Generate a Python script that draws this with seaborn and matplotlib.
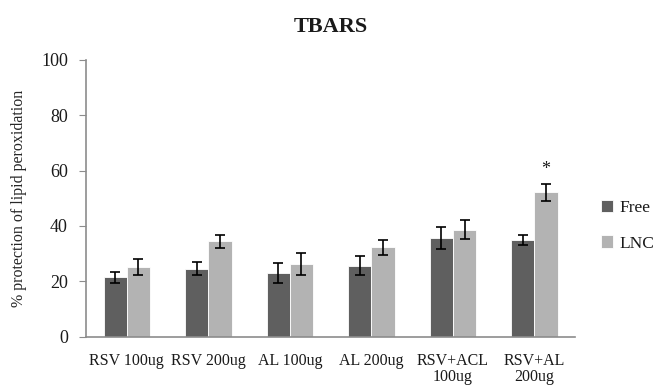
import numpy as np
import pandas as pd
import seaborn as sns
import matplotlib
matplotlib.use("Agg")
import matplotlib.pyplot as plt

groups = ["RSV 100ug", "RSV 200ug", "AL 100ug", "AL 200ug", "RSV+ACL\n100ug", "RSV+AL\n200ug"]
free_mean = [21.5, 24.6, 23.0, 25.7, 35.6, 35.0]
free_sd = [2.0, 2.4, 3.5, 3.4, 4.0, 1.9]
lnc_mean = [25.1, 34.5, 26.2, 32.3, 38.7, 52.2]
lnc_sd = [3.0, 2.4, 4.0, 2.7, 3.5, 3.0]
lnc_signif = ["", "", "", "", "", "*"]
series = ["Free", "LNC"]
colors = ["#5f5f5f", "#b3b3b3"]

df = pd.DataFrame({
    "group": groups * 2,
    "value": free_mean + lnc_mean,
    "sd": free_sd + lnc_sd,
    "form": ["Free"] * len(groups) + ["LNC"] * len(groups),
})

sns.set_style("white")
plt.rcParams["font.family"] = ["Liberation Serif", "DejaVu Serif"]
plt.rcParams["text.color"] = "#1a1a1a"
plt.rcParams["xtick.labelcolor"] = "#1a1a1a"
plt.rcParams["ytick.labelcolor"] = "#1a1a1a"

fig = plt.figure(figsize=(6.54, 3.86), dpi=100)
ax = fig.add_axes([0.1315, 0.128, 0.748, 0.7166])

sns.barplot(data=df, x="group", y="value", hue="form", hue_order=series,
            palette=colors, width=0.57, errorbar=None, ax=ax,
            edgecolor="white", linewidth=0.6)

# error bars + significance from the drawn bars
for cont, form in zip(ax.containers, series):
    sub = df[df["form"] == form]
    xs = [p.get_x() + p.get_width() / 2 for p in cont.patches]
    ax.errorbar(xs, sub["value"], yerr=sub["sd"], fmt="none", ecolor="black",
                elinewidth=1.2, capsize=3.5, capthick=1.2)
    if form == "LNC":
        for x, v, s, mark in zip(xs, sub["value"], sub["sd"], lnc_signif):
            if mark:
                ax.text(x, v + s + 5.2, mark, ha="center", va="center", fontsize=13)

ax.set_ylim(0, 100)
ax.set_yticks(range(0, 101, 20))
ax.set_xlim(-0.5, len(groups) - 0.5)
ax.set_xlabel("")
ax.set_ylabel("% protection of lipid peroxidation", fontsize=11.5, labelpad=10)
ax.set_title("TBARS", fontsize=16, fontweight="bold", pad=20)

for side in ["top", "right"]:
    ax.spines[side].set_visible(False)
for side in ["left", "bottom"]:
    ax.spines[side].set_color("#8c8c8c")
    ax.spines[side].set_linewidth(1.2)
ax.tick_params(axis="y", length=5, color="#8c8c8c", labelsize=13, pad=8, left=True)
ax.tick_params(axis="x", length=0, labelsize=11.5, pad=12)
for lbl in ax.get_xticklabels():
    lbl.set_linespacing(0.95)

ax.legend(loc="center left", bbox_to_anchor=(1.02, 0.40), frameon=False,
          fontsize=12.5, handlelength=0.7, handleheight=0.7, labelspacing=1.1,
          handletextpad=0.4)

fig.savefig("out.png", dpi=100)
